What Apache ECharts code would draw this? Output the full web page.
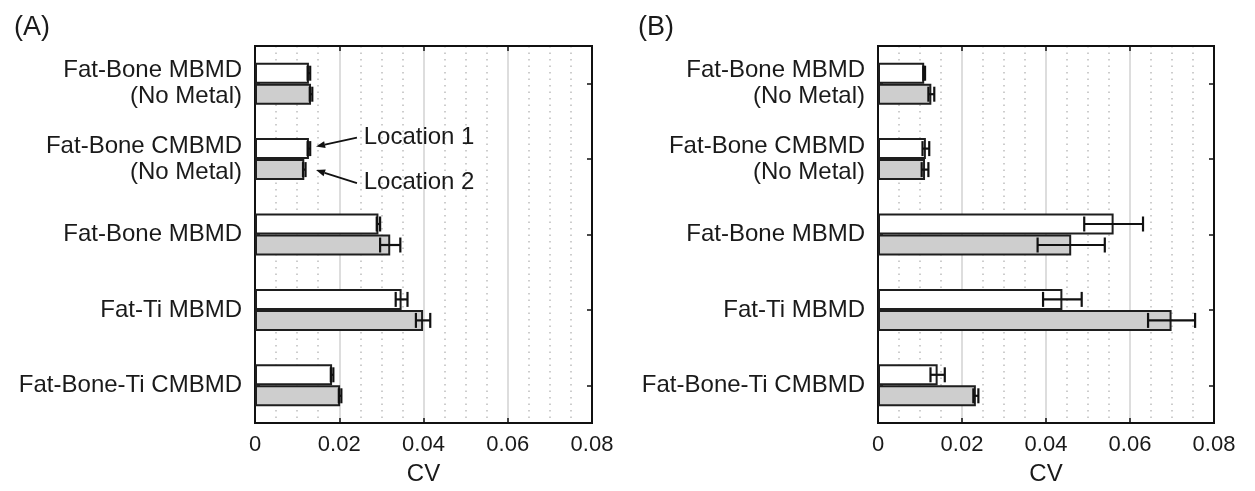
<!DOCTYPE html>
<html><head><meta charset="utf-8">
<script src="https://cdn.jsdelivr.net/npm/echarts@6/dist/echarts.min.js"></script>
<style>html,body{margin:0;padding:0;background:#fff}#c{width:1255px;height:491px}</style>
</head><body><div id="c"></div>
<script>
const categories = ['Fat-Bone MBMD\n(No Metal)', 'Fat-Bone CMBMD\n(No Metal)', 'Fat-Bone MBMD', 'Fat-Ti MBMD', 'Fat-Bone-Ti CMBMD'];
const xTicks = [0, 0.02, 0.04, 0.06, 0.08];
const panelTitles = ['(A)', '(B)'];
const seriesNames = ['Location 1', 'Location 2'];
// Panel A
const aLoc1 = [0.0128, 0.0128, 0.0293, 0.0348, 0.0183];
const aLoc1Err = [0.0003, 0.0003, 0.0004, 0.0014, 0.0003];
const aLoc2 = [0.0133, 0.0117, 0.0321, 0.0399, 0.0202];
const aLoc2Err = [0.0003, 0.0003, 0.0024, 0.0017, 0.0003];
// Panel B
const bLoc1 = [0.0110, 0.0114, 0.0561, 0.0439, 0.0142];
const bLoc1Err = [0.0002, 0.0008, 0.0070, 0.0046, 0.0017];
const bLoc2 = [0.0127, 0.0112, 0.0460, 0.0699, 0.0233];
const bLoc2Err = [0.0007, 0.0008, 0.0080, 0.0056, 0.0006];

const FONT = '"Liberation Sans", Arial, sans-serif';
const TXT = '#1a1a1a';
const BARW = 21;
const chart = echarts.init(document.getElementById('c'), null, {renderer: 'canvas'});

const grids = [
  {left: 255, top: 46, width: 337, height: 377},
  {left: 878, top: 46, width: 336, height: 377}
];

function makeX(gi, bottom) {
  return {
    type: 'value', gridIndex: gi, min: xTicks[0], max: xTicks[xTicks.length - 1], interval: xTicks[1] - xTicks[0],
    position: bottom ? 'bottom' : 'top',
    name: bottom ? 'CV' : '', nameLocation: 'middle', nameGap: 39,
    nameTextStyle: {fontFamily: FONT, fontSize: 24, color: TXT},
    axisLine: {show: true, onZero: false, lineStyle: {color: '#111', width: 2}},
    axisTick: {show: true, inside: true, length: 5, lineStyle: {color: '#111', width: 1.5}},
    axisLabel: {show: bottom, margin: 11, fontFamily: FONT, fontSize: 22, color: TXT,
      formatter: v => (v === 0 ? '0' : String(+v.toFixed(2)))},
    splitLine: {show: bottom, lineStyle: {color: '#d2d2d2', width: 1.5}},
    minorTick: {show: false, splitNumber: 4},
    minorSplitLine: {show: bottom, lineStyle: {color: '#bdbdbd', width: 1.5, type: [1.5, 5]}}
  };
}
function makeY(gi, left) {
  return {
    type: 'category', gridIndex: gi, data: categories, inverse: true,
    position: left ? 'left' : 'right',
    axisLine: {show: true, onZero: false, lineStyle: {color: '#111', width: 2}},
    axisTick: {show: true, inside: true, alignWithLabel: true, length: 5, lineStyle: {color: '#111', width: 1.5}},
    axisLabel: {show: left, margin: 13, fontFamily: FONT, fontSize: 24, lineHeight: 26, color: TXT, align: 'right'},
    splitLine: {show: false}
  };
}

function errRender(offset) {
  return function (params, api) {
    const v = api.value(0), e = api.value(1), c = api.value(2);
    const p1 = api.coord([v - e, c]), p2 = api.coord([v + e, c]);
    const y = p1[1] + offset, h = 7.5;
    const st = {stroke: '#111', lineWidth: 2.2};
    return {type: 'group', children: [
      {type: 'line', shape: {x1: p1[0], y1: y, x2: p2[0], y2: y}, style: st},
      {type: 'line', shape: {x1: p1[0], y1: y - h, x2: p1[0], y2: y + h}, style: st},
      {type: 'line', shape: {x1: p2[0], y1: y - h, x2: p2[0], y2: y + h}, style: st}
    ]};
  };
}

function barSeries(gi, vals, name, fill) {
  return {
    type: 'bar', name: name, xAxisIndex: gi * 2, yAxisIndex: gi * 2, data: vals,
    barWidth: BARW, barGap: '0%',
    itemStyle: {color: fill, borderColor: '#1e1e1e', borderWidth: 2},
    z: 3
  };
}
function errSeries(gi, vals, errs, offset) {
  return {
    type: 'custom', xAxisIndex: gi * 2, yAxisIndex: gi * 2,
    data: vals.map((v, i) => [v, errs[i], i]),
    encode: {x: 0, y: 2},
    renderItem: errRender(offset), z: 5, silent: true
  };
}

const option = {
  backgroundColor: '#fff',
  animation: false,
  grid: grids.map(g => Object.assign({show: true, borderColor: '#111', borderWidth: 2, backgroundColor: '#fff'}, g)),
  xAxis: [makeX(0, true), makeX(0, false), makeX(1, true), makeX(1, false)],
  yAxis: [makeY(0, true), makeY(0, false), makeY(1, true), makeY(1, false)],
  title: [
    {text: panelTitles[0], left: 9, top: 9, textStyle: {fontFamily: FONT, fontSize: 27, fontWeight: 'normal', color: TXT}},
    {text: panelTitles[1], left: 633, top: 9, textStyle: {fontFamily: FONT, fontSize: 27, fontWeight: 'normal', color: TXT}}
  ],
  series: [
    barSeries(0, aLoc1, seriesNames[0], '#ffffff'),
    barSeries(0, aLoc2, seriesNames[1], '#cecece'),
    errSeries(0, aLoc1, aLoc1Err, -BARW / 2),
    errSeries(0, aLoc2, aLoc2Err, BARW / 2),
    barSeries(1, bLoc1, seriesNames[0], '#ffffff'),
    barSeries(1, bLoc2, seriesNames[1], '#cecece'),
    errSeries(1, bLoc1, bLoc1Err, -BARW / 2),
    errSeries(1, bLoc2, bLoc2Err, BARW / 2)
  ]
};
chart.setOption(option);

// Annotation arrows in panel A, anchored to data coordinates
function px(x, cat) { return chart.convertToPixel({gridIndex: 0}, [x, cat]); }
function arrow(tail, tip) {
  const dx = tip[0] - tail[0], dy = tip[1] - tail[1];
  const L = Math.sqrt(dx * dx + dy * dy), ux = dx / L, uy = dy / L;
  const hl = 9, hw = 3.5;
  const bx = tip[0] - ux * hl, by = tip[1] - uy * hl;
  return [
    {type: 'line', shape: {x1: tail[0], y1: tail[1], x2: bx, y2: by}, style: {stroke: '#111', lineWidth: 1.8}, z: 10},
    {type: 'polygon', shape: {points: [tip, [bx - uy * hw, by + ux * hw], [bx + uy * hw, by - ux * hw]]}, style: {fill: '#111'}, z: 10}
  ];
}
const c1 = px(0.0145, 1), tailX = px(0.0242, 1)[0], textX = px(0.0258, 1)[0];
const yc = c1[1];
const graphics = [].concat(
  arrow([tailX, yc - 21.5], [c1[0], yc - 12.5]),
  arrow([tailX, yc + 24], [c1[0], yc + 11]),
  [
    {type: 'text', x: textX, y: yc - 22, style: {text: seriesNames[0], font: '24px ' + FONT, fill: TXT, verticalAlign: 'middle'}, z: 10},
    {type: 'text', x: textX, y: yc + 23, style: {text: seriesNames[1], font: '24px ' + FONT, fill: TXT, verticalAlign: 'middle'}, z: 10}
  ]
);
chart.setOption({graphic: graphics});
</script>
</body></html>
